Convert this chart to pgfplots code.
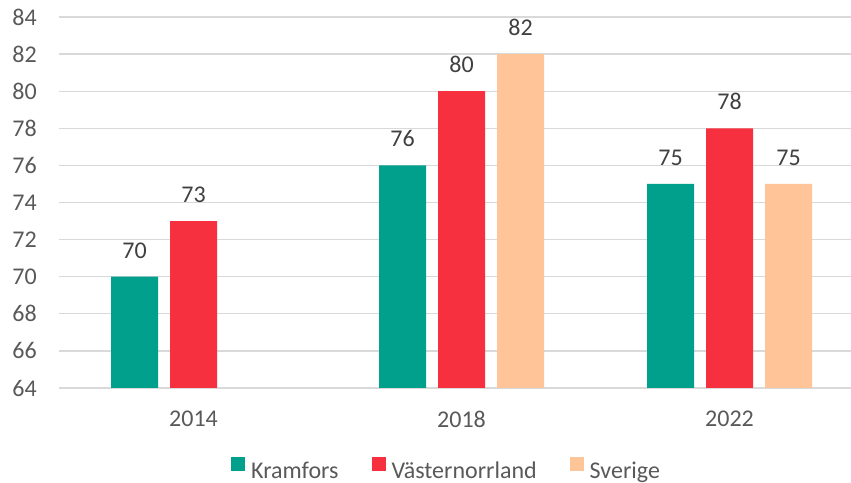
\documentclass[border=0pt]{standalone}
\usepackage{pgfplots}
\pgfplotsset{compat=1.18}
\usepackage{fontspec}
\setmainfont{Carlito}
\definecolor{kram}{HTML}{00A08C}
\definecolor{vast}{HTML}{F7303F}
\definecolor{sve}{HTML}{FFC599}
\definecolor{gridc}{HTML}{D9D9D9}
\definecolor{tickc}{HTML}{595959}
\definecolor{labc}{HTML}{404040}
\begin{document}
\begin{tikzpicture}
\begin{axis}[
  scale only axis, width=791.5pt, height=371pt,
  xmin=-0.5, xmax=2.4533, ymin=64, ymax=84,
  ytick={64,66,...,84},
  xtick={0,1,2}, xticklabels={2014,2018,2022},
  ymajorgrids, grid style={gridc, line width=1.3pt},
  axis line style={draw=none},
  major tick length=0pt,
  /pgf/number format/assume math mode=true,
  tick label style={font=\fontsize{24}{28}\selectfont, text=tickc, inner sep=0pt},
  xticklabel style={yshift=-22.5pt},
  yticklabel style={xshift=-22.5pt},
  ybar, bar width=47pt,
  nodes near coords,
  nodes near coords style={font=\fontsize{24}{28}\selectfont, text=labc, anchor=base, yshift=18.5pt, inner sep=0pt},
  legend columns=-1,
  legend image code/.code={\fill[#1] (0pt,0pt) rectangle (14pt,14pt);},
  legend style={at={(rel axis cs:0,0)}, anchor=north west, xshift=171.5pt, yshift=-69pt,
    draw=none, fill=none, inner sep=0pt, font=\fontsize{24}{28}\selectfont, text=tickc,
    nodes={inner sep=0pt},
    /tikz/every odd column/.append style={column sep=6pt},
    /tikz/every even column/.append style={column sep=33pt}},
]
\addplot[fill=kram, draw=none, bar shift=-59pt] coordinates {(0,70) (1,76) (2,75)};
\addplot[fill=vast, draw=none, bar shift=0pt] coordinates {(0,73) (1,80) (2,78)};
\addplot[fill=sve, draw=none, bar shift=59pt] coordinates {(1,82) (2,75)};
\legend{Kramfors, Västernorrland, Sverige}
\coordinate (ll) at (rel axis cs:0,0);
\coordinate (ur) at (rel axis cs:1,1);
\end{axis}
\pgfresetboundingbox
\path ([shift={(-59.5pt,-95pt)}]ll) rectangle ([shift={(0pt,17pt)}]ur);
\end{tikzpicture}
\end{document}
